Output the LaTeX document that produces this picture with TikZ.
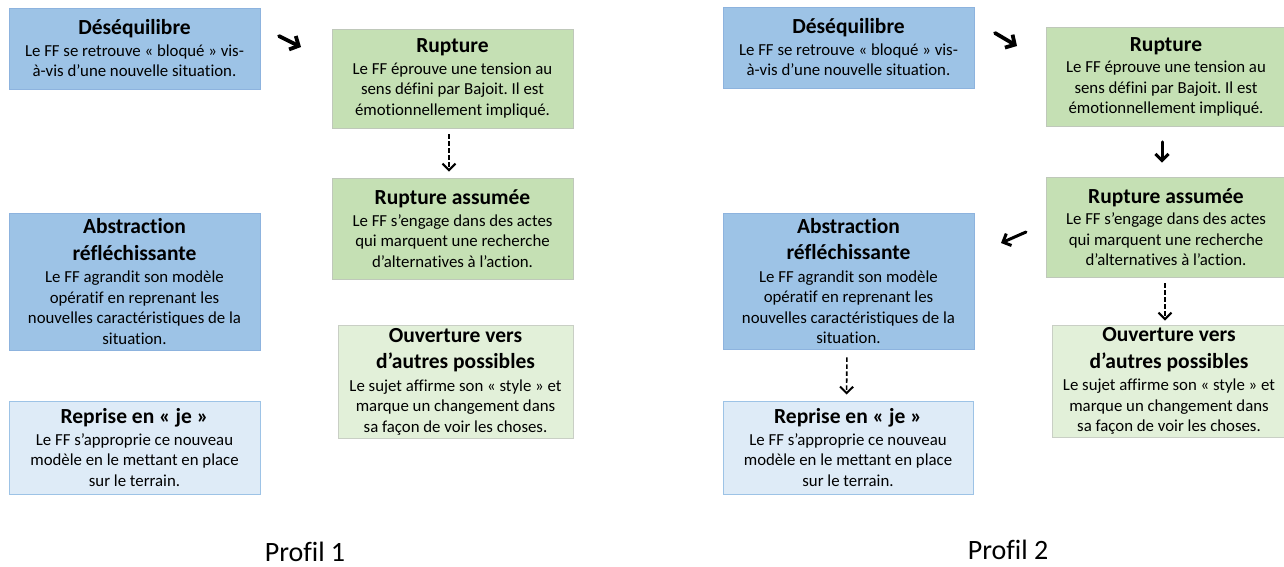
\documentclass[tikz,border=0pt]{standalone}
\usepackage{fontspec}
\setmainfont{Carlito}[Ligatures=NoCommon]
\usetikzlibrary{arrows.meta,calc}
\frenchspacing
\definecolor{bluefill}{HTML}{9DC3E6}
\definecolor{blueline}{HTML}{8DB3DE}
\definecolor{greenfill}{HTML}{C5E0B4}
\definecolor{greenline}{HTML}{BFC8BA}
\definecolor{lgreenfill}{HTML}{E2F0D9}
\definecolor{lgreenline}{HTML}{C9CFC5}
\definecolor{lbluefill}{HTML}{DEEBF7}
\definecolor{lblueline}{HTML}{9DC3E6}
\newcommand{\ttl}{\fontsize{21.5}{24}\selectfont\bfseries}
\newcommand{\bdy}{\fontsize{16.8}{20.5}\selectfont}
\tikzset{
  box/.style={rectangle, inner sep=0pt, align=center, line width=0.9pt, text=black, font=\bdy},
  bluebox/.style={box, fill=bluefill, draw=blueline},
  greenbox/.style={box, fill=greenfill, draw=greenline},
  lgreenbox/.style={box, fill=lgreenfill, draw=lgreenline},
  lbluebox/.style={box, fill=lbluefill, draw=lblueline},
  boldarrow/.style={line width=3.8pt, line cap=round, -{Straight Barb[length=7pt,width=15pt,line width=3.8pt]}},
  solidarrow/.style={line width=3pt, line cap=round, -{Straight Barb[length=6.5pt,width=13pt,line width=3pt]}},
  dasharrow/.style={line width=1.6pt, dash pattern=on 4.5pt off 2.5pt, -{Straight Barb[length=6.5pt,width=13pt,line width=2pt,sep=0pt]}},
  caption/.style={font=\fontsize{28}{32}\selectfont, inner sep=0pt, anchor=base}
}
\begin{document}
\begin{tikzpicture}[x=1pt,y=-1pt]
\useasboundingbox (0,0) rectangle (1284,566);
\fill[white] (0,0) rectangle (1284,566);

% ---- Profil 1 ----
\node[bluebox, minimum width=251pt, minimum height=81pt] (des1) at (134.5,48.5)
 {{\ttl Déséquilibre}\\[1pt]Le FF se retrouve «~bloqué~» vis-\\à-vis d’une nouvelle situation.};
\node[greenbox, minimum width=241pt, minimum height=99pt] (rup1) at (452.5,78.5)
 {{\ttl Rupture}\\[1pt]Le FF éprouve une tension au\\sens défini par Bajoit. Il est\\émotionnellement impliqué.};
\node[greenbox, minimum width=241pt, minimum height=101pt] (rupa1) at (452.5,228.5)
 {{\ttl Rupture assumée}\\[1pt]Le FF s’engage dans des actes\\qui marquent une recherche\\d’alternatives à l’action.};
\node[bluebox, minimum width=251pt, minimum height=137pt] (abs1) at (134.5,281.5)
 {{\ttl Abstraction}\\[6pt]{\ttl réfléchissante}\\[2pt]Le FF agrandit son modèle\\opératif en reprenant les\\nouvelles caractéristiques de la\\situation.};
\node[lgreenbox, minimum width=235pt, minimum height=113pt] (ouv1) at (455.5,381.5)
 {{\ttl Ouverture vers}\\[6pt]{\ttl d’autres possibles}\\[2pt]Le sujet affirme son «~style~» et\\marque un changement dans\\sa façon de voir les choses.};
\node[lbluebox, minimum width=251pt, minimum height=93pt] (rep1) at (134.5,447.5)
 {{\ttl Reprise en «~je~»}\\[1pt]Le FF s’approprie ce nouveau\\modèle en le mettant en place\\sur le terrain.};

\coordinate (a1s) at (279,36);
\coordinate (a1e) at (301,47);
\draw[boldarrow] (a1s) -- (a1e);
\draw[dasharrow, shorten <=6pt, shorten >=6pt] ([xshift=-3.5pt]rup1.south) -- ([xshift=-3.5pt]rupa1.north);

\node[caption] (p1) at (305,561) {Profil 1};

% ---- Profil 2 ----
\node[bluebox, minimum width=251pt, minimum height=81pt] (des2) at (848.5,47.5)
 {{\ttl Déséquilibre}\\[1pt]Le FF se retrouve «~bloqué~» vis-\\à-vis d’une nouvelle situation.};
\node[greenbox, minimum width=240pt, minimum height=99pt] (rup2) at (1166,77)
 {{\ttl Rupture}\\[1pt]Le FF éprouve une tension au\\sens défini par Bajoit. Il est\\émotionnellement impliqué.};
\node[greenbox, minimum width=240pt, minimum height=100pt] (rupa2) at (1166,227)
 {{\ttl Rupture assumée}\\[1pt]Le FF s’engage dans des actes\\qui marquent une recherche\\d’alternatives à l’action.};
\node[bluebox, minimum width=251pt, minimum height=136pt] (abs2) at (848.5,281)
 {{\ttl Abstraction}\\[6pt]{\ttl réfléchissante}\\[2pt]Le FF agrandit son modèle\\opératif en reprenant les\\nouvelles caractéristiques de la\\situation.};
\node[lgreenbox, minimum width=234pt, minimum height=112pt] (ouv2) at (1169,381)
 {{\ttl Ouverture vers}\\[6pt]{\ttl d’autres possibles}\\[2pt]Le sujet affirme son «~style~» et\\marque un changement dans\\sa façon de voir les choses.};
\node[lbluebox, minimum width=250pt, minimum height=93pt] (rep2) at (848,447.5)
 {{\ttl Reprise en «~je~»}\\[1pt]Le FF s’approprie ce nouveau\\modèle en le mettant en place\\sur le terrain.};

\coordinate (b1s) at (995,33);
\coordinate (b1e) at (1017,46);
\draw[boldarrow] (b1s) -- (b1e);
\draw[solidarrow, shorten <=15pt, shorten >=14pt] ([xshift=-4pt]rup2.south) -- ([xshift=-4pt]rupa2.north);
\coordinate (b3s) at (1026,232);
\coordinate (b3e) at (1001,243);
\draw[solidarrow] (b3s) -- (b3e);
\draw[dasharrow, shorten <=6pt, shorten >=4pt] ([xshift=-1pt]rupa2.south) -- ([xshift=-1pt]rupa2.south |- ouv2.north);
\draw[dasharrow, shorten <=8pt, shorten >=6pt] ([xshift=-1.5pt]abs2.south) -- ([xshift=-1.5pt]rep2.north);

\node[caption] (p2) at (1008,559) {Profil 2};
\end{tikzpicture}
\end{document}
